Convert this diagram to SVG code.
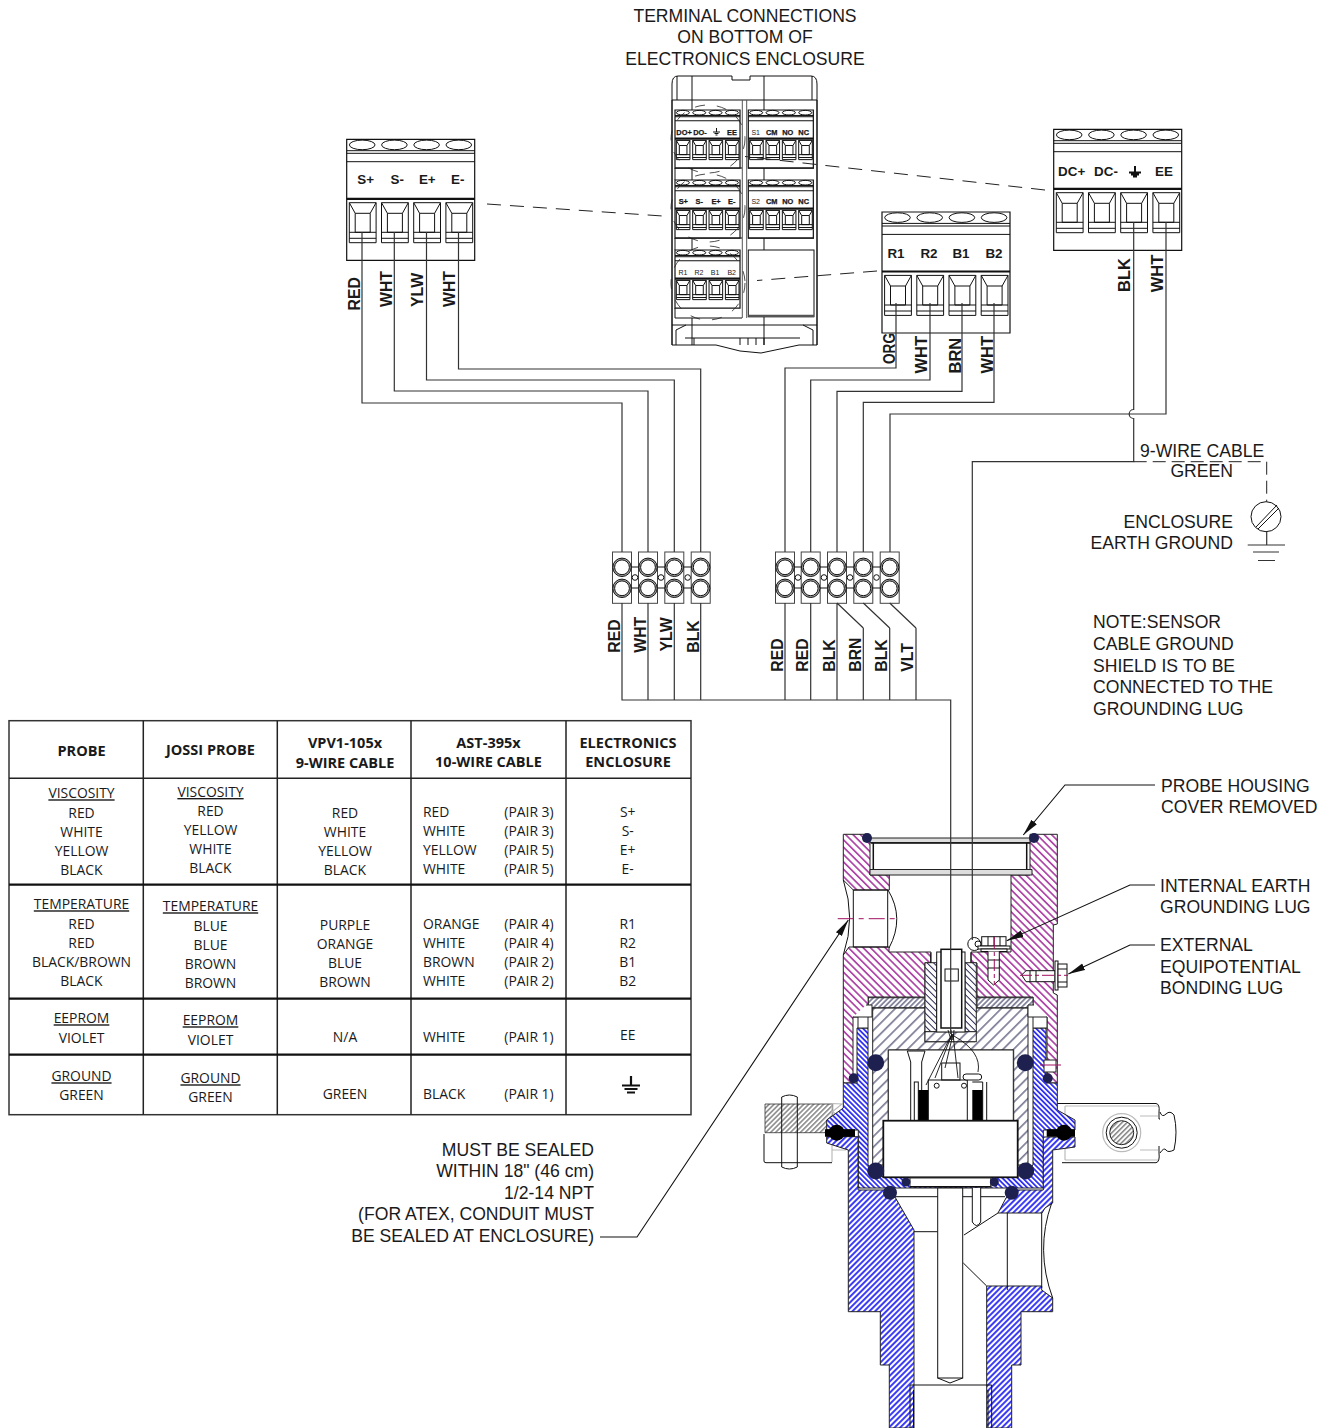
<svg xmlns="http://www.w3.org/2000/svg" xmlns:xlink="http://www.w3.org/1999/xlink" width="1328" height="1428" viewBox="0 0 1328 1428">
<style>
text{font-family:"Liberation Sans",Arial,sans-serif;fill:#1a1a1a}
.a{font-size:17.6px}
.e{text-anchor:end}
.m{text-anchor:middle}
.wl{font-size:15.8px;font-weight:bold}
.wr{font-size:16.5px;font-weight:bold}
.tb{font-size:13.4px;font-weight:bold;text-anchor:middle}
.sb{font-size:7.4px;font-weight:bold;text-anchor:middle;stroke:#111;stroke-width:.25}
.sn{font-size:7px;text-anchor:middle}
.t text{font-family:"Open Sans","Noto Sans",sans-serif;font-size:13.9px}
.t .h{font-weight:bold;text-anchor:middle;font-size:14.5px}
.t .c{text-anchor:middle}
.t .u{text-anchor:middle;text-decoration:underline}
.ln{fill:none;stroke:#222;stroke-width:1}
.w{fill:none;stroke:#333;stroke-width:1.2}
.d{fill:none;stroke:#222;stroke-width:1;stroke-dasharray:14 9}
.tl{fill:none;stroke:#222;stroke-width:1.5}
.tk{fill:none;stroke:#111;stroke-width:2.2}
.o{stroke:#111;stroke-width:1;fill:none}
.ow{stroke:#111;stroke-width:1;fill:#fff}
.k{stroke:#111;stroke-width:1.5;fill:#fff}
.navy{fill:#1e2050}
.ca{fill:none;stroke:#111;stroke-width:1.1;marker-end:url(#ar)}
#term *,#sock *{vector-effect:non-scaling-stroke}
</style>
<defs>
<marker id="ar" markerUnits="userSpaceOnUse" markerWidth="18" markerHeight="9" refX="17" refY="4.5" orient="auto"><path d="M0 1L17 4.5L0 8z" fill="#111"/></marker>
<pattern id="pm" patternUnits="userSpaceOnUse" width="8" height="5.2" patternTransform="rotate(45)"><rect width="8" height="5.2" fill="#fff"/><line x1="0" x2="8" y1="2.6" y2="2.6" stroke="#960a8c" stroke-width="1.3"/></pattern>
<pattern id="pb" patternUnits="userSpaceOnUse" width="8" height="3.6" patternTransform="rotate(45)"><rect width="8" height="3.6" fill="#fff"/><line x1="0" x2="8" y1="1.8" y2="1.8" stroke="#0a0af5" stroke-width="1.5"/></pattern>
<pattern id="pf" patternUnits="userSpaceOnUse" width="8" height="4" patternTransform="rotate(-45)"><rect width="8" height="4" fill="#fff"/><line x1="0" x2="8" y1="2" y2="2" stroke="#0a0af5" stroke-width="1.6"/></pattern>
<pattern id="pn" patternUnits="userSpaceOnUse" width="8" height="7.5" patternTransform="rotate(-45)"><rect width="8" height="7.5" fill="#fff"/><line x1="0" x2="8" y1="3.7" y2="3.7" stroke="#23234f" stroke-width="1"/></pattern>
<pattern id="pb2" patternUnits="userSpaceOnUse" width="8" height="4.6" patternTransform="rotate(45)"><rect width="8" height="4.6" fill="#fff"/><line x1="0" x2="8" y1="2.3" y2="2.3" stroke="#23234f" stroke-width="1"/></pattern>
<pattern id="pd" patternUnits="userSpaceOnUse" width="8" height="3.6" patternTransform="rotate(-45)"><rect width="8" height="3.6" fill="#fff"/><line x1="0" x2="8" y1="1.8" y2="1.8" stroke="#23234f" stroke-width="1"/></pattern>
<pattern id="pg" patternUnits="userSpaceOnUse" width="8" height="3.5" patternTransform="rotate(-45)"><rect width="8" height="3.5" fill="#fff"/><line x1="0" x2="8" y1="1.7" y2="1.7" stroke="#444" stroke-width="1"/></pattern>
<g id="sock"><rect x="2.6" y="63.4" width="26.8" height="40" class="o"/><rect x="8.5" y="74" width="15" height="19" class="o"/><path d="M2.6 63.4L8.5 74M29.4 63.4L23.5 74M2.6 93H29.4M2.6 99H29.4" class="o"/></g>
<g id="term">
<rect width="128" height="121" fill="#fff" stroke="#111" stroke-width="1.2"/>
<path d="M0 11.4H128M0 14H128M0 22.4H128" class="o"/><path d="M0 59.5H128" stroke="#111" stroke-width="2.2"/>
<ellipse cx="15.5" cy="5.6" rx="12.8" ry="4.8" class="o"/><ellipse cx="47.7" cy="5.6" rx="12.8" ry="4.8" class="o"/><ellipse cx="79.9" cy="5.6" rx="12.8" ry="4.8" class="o"/><ellipse cx="112.1" cy="5.6" rx="12.8" ry="4.8" class="o"/>
<use href="#sock"/><use href="#sock" x="32.2"/><use href="#sock" x="64.4"/><use href="#sock" x="96.6"/>
</g>
<g id="cell"><rect x="-9.5" y="0" width="19" height="51.3" fill="#fff" stroke="#444"/><circle cx="0" cy="15.3" r="9.2" fill="#aaa" stroke="#111"/><circle cx="0" cy="15.3" r="7.4" class="ow"/><circle cx="0" cy="36.3" r="9.2" fill="#aaa" stroke="#111"/><circle cx="0" cy="36.3" r="7.4" class="ow"/></g>
<g id="link"><path d="M-4 15H4M-4 36H4" class="o"/><circle cx="0" cy="25.5" r="2.8" class="ow"/></g>
</defs>
<rect width="1328" height="1428" fill="#fff"/>

<g id="title"><text class="a m" x="745" y="22">TERMINAL CONNECTIONS</text><text class="a m" x="745" y="43">ON BOTTOM OF</text><text class="a m" x="745" y="65">ELECTRONICS ENCLOSURE</text></g>

<g id="enclosure">
<path d="M672 84Q672 76 678 76H732V80H750V76H811Q817 76 817 84V345H799L780 349L761 353L740 351L716 345H672Z" class="o" fill="#fff"/>
<path d="M677 76V100M812 76V100M692 76V186M764 76V110M672 100H817M672 100V345M817 100V345" class="o"/>
<path d="M742.3 100V318M746.7 100V318" stroke="#555" stroke-width="1" fill="none"/>
<g transform="translate(675,110) scale(.508,.48)"><use href="#term"/></g>
<g transform="translate(748.3,110) scale(.508,.48)"><use href="#term"/></g>
<g transform="translate(675,180) scale(.508,.48)"><use href="#term"/></g>
<g transform="translate(748.3,180) scale(.508,.48)"><use href="#term"/></g>
<g transform="translate(675,250) scale(.508,.48)"><use href="#term"/></g>
<rect x="748.3" y="250" width="65.7" height="66.7" class="ow"/><path d="M748.3 316H814" stroke="#555" stroke-width="2.5"/>
<path d="M675 168V180M675 238V250M675 308V318H742M675 168H742M675 238H742M748 168H814M748 238H814M692 238V250M764 168V180M764 238V250M692 318V345M764 317V345M672 325H817M676 345L676 330L686 325M813 345L813 330L803 325M685 338H800M694 338V345M740 338V345M748 338V345M756 338V345M764 338V345" class="o"/>
<ellipse cx="708" cy="139" rx="37" ry="34" fill="none" stroke="#222" stroke-width=".8" stroke-dasharray="10 12"/>
<ellipse cx="708" cy="208" rx="37" ry="34" fill="none" stroke="#222" stroke-width=".8" stroke-dasharray="10 12"/>
<ellipse cx="708" cy="283" rx="37" ry="37" fill="none" stroke="#222" stroke-width=".8" stroke-dasharray="10 12"/>
<text class="sb" x="684" y="135">DO+</text><text class="sb" x="700" y="135">DO-</text><text class="sb" x="732" y="135">EE</text>
<path d="M716.5 128V132M713 132H720M714.5 133.5H718.5M715.5 135H717.5" stroke="#111" stroke-width="1" fill="none"/>
<text class="sn" x="755.7" y="135">S1</text><text class="sb" x="771.7" y="135">CM</text><text class="sb" x="787.7" y="135">NO</text><text class="sb" x="803.7" y="135">NC</text>
<text class="sb" x="683.3" y="204">S+</text><text class="sb" x="699.3" y="204">S-</text><text class="sb" x="716" y="204">E+</text><text class="sb" x="731.7" y="204">E-</text>
<text class="sn" x="755.7" y="204">S2</text><text class="sb" x="771.7" y="204">CM</text><text class="sb" x="787.7" y="204">NO</text><text class="sb" x="803.7" y="204">NC</text>
<text class="sn" x="683" y="275">R1</text><text class="sn" x="699" y="275">R2</text><text class="sn" x="715" y="275">B1</text><text class="sn" x="731.7" y="275">B2</text>
</g>

<g id="block-signal"><use href="#term" x="346.7" y="139.3"/>
<text class="tb" x="365.7" y="183.5">S+</text><text class="tb" x="397.3" y="183.5">S-</text><text class="tb" x="427.3" y="183.5">E+</text><text class="tb" x="457.7" y="183.5">E-</text></g>
<g id="block-power"><use href="#term" x="1053.7" y="129.3"/>
<text class="tb" x="1071.7" y="176">DC+</text><text class="tb" x="1106" y="176">DC-</text><text class="tb" x="1164" y="176">EE</text>
<path d="M1135 166V172M1129 172.5H1141M1131 174.5H1139M1133 176.5H1137" stroke="#111" stroke-width="2" fill="none"/></g>
<g id="block-rtd"><use href="#term" x="882" y="212"/>
<text class="tb" x="896" y="257.5">R1</text><text class="tb" x="929" y="257.5">R2</text><text class="tb" x="961" y="257.5">B1</text><text class="tb" x="994" y="257.5">B2</text></g>

<g id="strip-left"><use href="#cell" x="622" y="552"/><use href="#cell" x="648" y="552"/><use href="#cell" x="674.3" y="552"/><use href="#cell" x="700.7" y="552"/><use href="#link" x="635" y="552"/><use href="#link" x="661" y="552"/><use href="#link" x="687.7" y="552"/></g>
<g id="strip-right"><use href="#cell" x="785" y="552"/><use href="#cell" x="810.7" y="552"/><use href="#cell" x="837" y="552"/><use href="#cell" x="863.3" y="552"/><use href="#cell" x="889.7" y="552"/><use href="#link" x="798" y="552"/><use href="#link" x="824" y="552"/><use href="#link" x="850" y="552"/><use href="#link" x="876.5" y="552"/></g>

<g id="probe">
<path d="M765 1104H832.7V1132.7H765Z" fill="url(#pg)" stroke="#333" stroke-width=".8"/>
<path d="M764 1134V1161Q764 1162.7 766 1162.7H832M781.7 1097V1167M797.3 1097V1167M781.7 1097Q789.5 1093 797.3 1097M781.7 1167Q789.5 1171 797.3 1167" class="ow"/>
<path d="M832 1103.5L842 1104L832 1112M832 1150H846M832 1162V1104M832 1111L840 1118" fill="none" stroke="#bbb" stroke-width="1.2"/>
<path d="M1057 1103.5H1156Q1160 1104 1159 1112V1119H1160M1062 1162.7H1156Q1160 1162 1159 1153V1146" class="o"/>
<path d="M1065 1106H1158M1065 1160H1158M1065 1106V1160M1140 1116H1158M1140 1150H1158" fill="none" stroke="#bbb" stroke-width="1.2"/>
<path d="M1160 1112Q1162 1118 1166 1114T1174 1115Q1178 1132 1174 1150Q1168 1153 1166 1150T1160 1153" class="o"/>
<circle cx="1121.7" cy="1132.7" r="19" fill="#fff" stroke="#bbb" stroke-width="1.2"/><circle cx="1121.7" cy="1132.7" r="15.5" class="o"/><circle cx="1121.7" cy="1132.7" r="12" fill="url(#pg)" stroke="#222"/>
<path d="M843.3 834.3H870V870.5L870 875H889.3V890H853.3L843.3 880Z" fill="url(#pm)" stroke="#222" stroke-width="1"/>
<path d="M1030 834.3H1057.3V924L1053.3 925V993L1057.3 995V1083H1047V1017H1033V997H977V963H971V952H1011V875H1030Z" fill="url(#pm)" stroke="#222" stroke-width="1"/>
<path d="M843.3 955L849 947H889V952H931V963H925V997H868.3V1017H853V1083H843.3Z" fill="url(#pm)" stroke="#222" stroke-width="1"/>
<path d="M870 838H1030V842.7H870Z" fill="#ddd" stroke="#222"/>
<path d="M873.3 842.7V869.5M1026.7 842.7V869.5" class="k"/>
<path d="M871 843H1030" stroke="#111" stroke-width="1.6"/>
<path d="M870 869.5H1032V875H870Z" fill="#ddd" stroke="#222"/>
<circle cx="867" cy="838" r="5" class="navy"/><circle cx="1034" cy="838" r="5" class="navy"/>
<path d="M853.3 890V947M887.7 890V947M853.3 890H888M853.3 947H888M843.3 880Q856 918 843.3 955M888 890Q905 918 889 948" class="o"/>
<path d="M837.7 918.7H898.3" stroke="#a01060" stroke-width="1" stroke-dasharray="16 5 5 5"/>
<path d="M843.3 1083H857V1028H868V1165L883 1177H1017L1033 1165V1028H1046V1083H1057.3V1110L1075 1120V1130H1043.3V1188H858.3V1130H826.7V1120L843.3 1108Z" fill="url(#pb)" stroke="#222" stroke-width="1"/>
<path d="M826.7 1136.7H858V1190H885L895 1197L914 1230V1428H889.3V1365H880.3V1311.7H848.3V1150L826.7 1143Z" fill="url(#pf)" stroke="#222" stroke-width="1"/>
<path d="M1043.3 1137H1075V1147L1052.7 1150V1203L1045 1208L1042 1213H998L1006 1198L1012 1190H1043.3Z" fill="url(#pf)" stroke="#222" stroke-width="1"/>
<path d="M986.7 1286H1041.7V1290L1052.7 1298V1311.7H1021V1365H1011.7V1428H986.7Z" fill="url(#pf)" stroke="#222" stroke-width="1"/>
<path d="M872.7 1008H925V1041.7H975V1008H1028V1165H1013.7V1050H888.3V1165H872.7Z" fill="url(#pn)" stroke="#222" stroke-width="1"/>
<rect x="868.3" y="997.7" width="56.7" height="10" fill="url(#pd)" stroke="#222"/><rect x="977" y="997.7" width="56" height="10" fill="url(#pd)" stroke="#222"/>
<path d="M858 1017V1028H868V1017M1033 1017V1028H1047V1017M853 1017H872V1005H866M1047 1017H1028V1005H1034" fill="#fff" stroke="#222"/>
<rect x="925" y="962.7" width="11.7" height="69" fill="url(#pb2)" stroke="#222"/><rect x="965" y="962.7" width="11.3" height="69" fill="url(#pb2)" stroke="#222"/>
<rect x="925" y="1031.7" width="51.3" height="10" fill="url(#pn)" stroke="#222"/>
<rect x="936.7" y="952" width="28.3" height="80" class="ow"/>
<path d="M930.7 952.7V962.7M971 952.7V962.7" class="o"/>
<rect x="941" y="949.3" width="20.7" height="78.7" class="k"/><rect x="945" y="969" width="13.3" height="12" class="o"/>
<path d="M895 1196.7H1005M914 1231.7H937.7M964 1235L998 1213M963.3 1263L986.7 1286M1007.3 1213V1290M1041.7 1213V1288M1051.7 1203Q1035 1250 1052.7 1298" class="o"/>
<rect x="937.7" y="1188" width="25" height="190" class="ow"/>
<path d="M937.7 1378L950 1383L962.7 1378" class="o"/>
<path d="M972.3 1188V1222Q976.5 1229 980.7 1222V1188" class="ow"/>
<path d="M910 1428V1385H991.7V1428M913.5 1428V1390M988 1428V1390" class="o"/>
<rect x="888.3" y="1050" width="125" height="72" fill="#fff" stroke="#222"/>
<path d="M907.3 1051H925L921.7 1062V1122M910.7 1062V1122M907.3 1051L910.7 1062" class="ow"/>
<rect x="914.3" y="1082" width="4" height="40" class="o"/>
<rect x="918.3" y="1090" width="10.7" height="30" fill="#000"/><rect x="972.3" y="1090" width="10.4" height="30" fill="#000"/>
<path d="M982.7 1082V1120M986.7 1082V1120M972.3 1082H982.7" class="o"/>
<rect x="928.3" y="1080" width="39" height="40.7" class="ow"/>
<circle cx="936.7" cy="1085.7" r="2.5" class="o"/><circle cx="964" cy="1085.7" r="2.5" class="o"/>
<rect x="941.7" y="1063" width="18.3" height="17" class="o"/>
<rect x="963" y="1074" width="18.7" height="6" class="ow" rx="3"/>
<path d="M952 1034L926 1085M952 1034L935 1078M953 1034L945 1068M953 1034L958 1078M954 1036Q982 1052 978 1072M948 1030L951 1040M951 1030L952 1040M954 1030L953 1040" fill="none" stroke="#111" stroke-width=".9"/>
<rect x="883.3" y="1120.7" width="134.4" height="56.6" fill="#fff" stroke="#111" stroke-width="1.8"/>
<rect x="910" y="1178" width="80.7" height="8.7" fill="#fff" stroke="#333"/>
<path d="M910 1186.7H990.7" stroke="#111" stroke-width="1.6"/>
<circle cx="853.7" cy="1078.3" r="5" class="navy"/><circle cx="1047.7" cy="1078.3" r="5" class="navy"/>
<circle cx="875.7" cy="1062.7" r="8.5" class="navy"/><circle cx="1025.3" cy="1062.7" r="8.5" class="navy"/>
<circle cx="875.7" cy="1171" r="8.5" class="navy"/><circle cx="1025.7" cy="1171" r="8.5" class="navy"/>
<circle cx="906" cy="1182" r="4.5" class="navy"/><circle cx="994.3" cy="1182" r="4.5" class="navy"/>
<circle cx="890" cy="1192.7" r="7" class="navy"/><circle cx="1011.7" cy="1192.7" r="7" class="navy"/>
<rect x="1044" y="1060" width="12" height="12" fill="#fff" stroke="#222"/><path d="M1040 1065H1061" stroke="#a01060"/>
<path d="M825 1133H855M1046.7 1133H1075" stroke="#000" stroke-width="7.5"/>
<circle cx="836.7" cy="1132.7" r="8" fill="#000"/><circle cx="1064" cy="1132.7" r="8" fill="#000"/>
</g>

<g id="lug-internal">
<rect x="981.7" y="936.7" width="24.3" height="9.3" class="ow"/><path d="M988 936.7V946M994 936.7V946M1000 936.7V946" class="o"/>
<circle cx="974.3" cy="944" r="6.5" class="ow"/><circle cx="978" cy="944" r="3" class="ow"/>
<rect x="978" y="946" width="32" height="3" class="ow"/><rect x="981" y="949" width="26" height="2.5" class="ow"/>
<path d="M988 951.5V980L993.5 985L999.3 980V951.5" class="ow"/><path d="M988 960H999.3M988 968H999.3" class="o"/>
<path d="M994.3 937V985" stroke="#a01060" stroke-dasharray="12 3 4 3"/>
</g>
<g id="lug-external">
<path d="M1021.7 975L1026 970.7H1055V981.7H1026Z" class="ow"/><path d="M1030 970.7V981.7M1036 970.7V981.7" class="o"/>
<rect x="1055" y="961" width="3" height="29" class="ow"/><rect x="1058" y="964" width="9" height="23" class="ow"/><path d="M1058 969H1067M1058 982H1067" class="o"/>
<path d="M1020 975.3H1068" stroke="#a01060" stroke-dasharray="12 3 4 3"/>
</g>

<g id="connectors">
<path class="d" d="M487 204L670 216.5"/>
<path class="d" d="M1045 190L745 156.5"/>
<path class="d" d="M877 271L757 280.5"/>
<path class="w" d="M362 232V403H622V552M394.3 232V391H648V552M426.5 232V380H674.3V552M458.5 232V369H700.7V552"/>
<path class="w" d="M896 303V368H785V552M930 303V380H810.7V552M962 303V391.3H837V552M994 303V402.3H863.3V552"/>
<path class="w" d="M1166 222V414H890V552"/>
<path class="w" d="M1133.7 222V409.5A4.5 4.5 0 0 0 1133.7 418.5V461.7H972.3V940"/>
<path class="w" d="M622 603V700H950.7V1034M648 603V700M674.3 603V700M700.7 603V700"/>
<path class="w" d="M785 603V700M810.7 603V700M837 603V700M863.3 628V700M889.7 628V700M916 628V700M837 603L863.3 628M863.3 603L889.7 628M889.7 603L916 628"/>
<path class="d" d="M1133.7 461.7H1266.7V501.7" style="stroke-dasharray:13 6"/>
<path class="ca" d="M1155 785H1065L1023.3 835"/>
<path class="ca" d="M1155 885H1130L1006.7 940.7"/>
<path class="ca" d="M1155 945H1130L1068.3 974"/>
<path class="ca" d="M600 1237H637L848.3 920"/>
</g>

<g id="ground">
<circle cx="1266" cy="516.7" r="15" class="ow" stroke-width="1.2"/>
<path d="M1256 527L1277 505M1258 529L1279 508" class="o"/>
<path d="M1266.7 531.7V545M1247.7 545H1285M1253 552H1279M1258 560.5H1275" class="w"/>
</g>

<g id="wire-labels">
<text class="wl" transform="translate(360,310.5) rotate(-90)">RED</text>
<text class="wl" transform="translate(391.7,307) rotate(-90)">WHT</text>
<text class="wl" transform="translate(423,307) rotate(-90)">YLW</text>
<text class="wl" transform="translate(455,307) rotate(-90)">WHT</text>
<text class="wr" textLength="31" lengthAdjust="spacingAndGlyphs" transform="translate(895,364) rotate(-90)">ORG</text>
<text class="wr" transform="translate(927.3,373.5) rotate(-90)">WHT</text>
<text class="wr" transform="translate(960.7,373.5) rotate(-90)">BRN</text>
<text class="wr" transform="translate(992.7,373.5) rotate(-90)">WHT</text>
<text class="wr" transform="translate(1130,292) rotate(-90)">BLK</text>
<text class="wr" transform="translate(1162.7,292.3) rotate(-90)">WHT</text>
<text class="wl" transform="translate(620,652.7) rotate(-90)">RED</text>
<text class="wl" transform="translate(646,652.7) rotate(-90)">WHT</text>
<text class="wl" transform="translate(671.7,651.5) rotate(-90)">YLW</text>
<text class="wl" transform="translate(699,652.7) rotate(-90)">BLK</text>
<text class="wl" transform="translate(782.7,671.7) rotate(-90)">RED</text>
<text class="wl" transform="translate(808.3,671.7) rotate(-90)">RED</text>
<text class="wl" transform="translate(835,671.7) rotate(-90)">BLK</text>
<text class="wl" transform="translate(861,671.7) rotate(-90)">BRN</text>
<text class="wl" transform="translate(887.3,671.7) rotate(-90)">BLK</text>
<text class="wl" transform="translate(913.3,671.7) rotate(-90)">VLT</text>
</g>

<g id="notes">
<text class="a" x="1140" y="456.5">9-WIRE CABLE</text><text class="a e" x="1233" y="477">GREEN</text>
<text class="a e" x="1233" y="527.5">ENCLOSURE</text><text class="a e" x="1233" y="549">EARTH GROUND</text>
<text class="a" x="1093" y="628">NOTE:SENSOR</text><text class="a" x="1093" y="650">CABLE GROUND</text><text class="a" x="1093" y="671.5">SHIELD IS TO BE</text><text class="a" x="1093" y="693">CONNECTED TO THE</text><text class="a" x="1093" y="714.5">GROUNDING LUG</text>
<text class="a" x="1161" y="791.5">PROBE HOUSING</text><text class="a" x="1161" y="813">COVER REMOVED</text>
<text class="a" x="1160" y="891.5">INTERNAL EARTH</text><text class="a" x="1160" y="913">GROUNDING LUG</text>
<text class="a" x="1160" y="951">EXTERNAL</text><text class="a" x="1160" y="972.5">EQUIPOTENTIAL</text><text class="a" x="1160" y="994">BONDING LUG</text>
<text class="a e" x="594" y="1156">MUST BE SEALED</text><text class="a e" x="594" y="1177">WITHIN 18" (46 cm)</text><text class="a e" x="594" y="1198.5">1/2-14 NPT</text><text class="a e" x="594" y="1220">(FOR ATEX, CONDUIT MUST</text><text class="a e" x="594" y="1242">BE SEALED AT ENCLOSURE)</text>
</g>

<g id="table" class="t">
<rect x="9" y="720.7" width="682" height="394" fill="#fff" stroke="#333" stroke-width="1.5"/>
<path class="tl" d="M143.3 720.7V1114.7M277.3 720.7V1114.7M411 720.7V1114.7M566 720.7V1114.7M9 778.3H691"/>
<path class="tk" d="M9 884.7H691M9 998.7H691M9 1054.7H691"/>
<text class="h" x="81.5" y="756">PROBE</text><text class="h" x="210.5" y="755">JOSSI PROBE</text>
<text class="h" x="345" y="748">VPV1-105x</text><text class="h" x="345" y="767.7">9-WIRE CABLE</text>
<text class="h" x="488.5" y="747.5">AST-395x</text><text class="h" x="488.5" y="767">10-WIRE CABLE</text>
<text class="h" x="628" y="747.5">ELECTRONICS</text><text class="h" x="628" y="767">ENCLOSURE</text>
<text class="u" x="81.5" y="798.3">VISCOSITY</text><text class="c" x="81.5" y="817.5">RED</text><text class="c" x="81.5" y="836.5">WHITE</text><text class="c" x="81.5" y="855.5">YELLOW</text><text class="c" x="81.5" y="874.5">BLACK</text>
<text class="u" x="210.5" y="797">VISCOSITY</text><text class="c" x="210.5" y="816">RED</text><text class="c" x="210.5" y="835">YELLOW</text><text class="c" x="210.5" y="854">WHITE</text><text class="c" x="210.5" y="873">BLACK</text>
<text class="c" x="345" y="818">RED</text><text class="c" x="345" y="837">WHITE</text><text class="c" x="345" y="856">YELLOW</text><text class="c" x="345" y="875">BLACK</text>
<text x="423" y="817.3">RED</text><text x="423" y="836.3">WHITE</text><text x="423" y="855.3">YELLOW</text><text x="423" y="874.3">WHITE</text>
<text x="504.3" y="817.3">(PAIR 3)</text><text x="504.3" y="836.3">(PAIR 3)</text><text x="504.3" y="855.3">(PAIR 5)</text><text x="504.3" y="874.3">(PAIR 5)</text>
<text class="c" x="627.7" y="817.3">S+</text><text class="c" x="627.7" y="836.3">S-</text><text class="c" x="627.7" y="855.3">E+</text><text class="c" x="627.7" y="874.3">E-</text>
<text class="u" x="81.5" y="909.3">TEMPERATURE</text><text class="c" x="81.5" y="928.5">RED</text><text class="c" x="81.5" y="947.5">RED</text><text class="c" x="81.5" y="966.5">BLACK/BROWN</text><text class="c" x="81.5" y="985.5">BLACK</text>
<text class="u" x="210.5" y="911.3">TEMPERATURE</text><text class="c" x="210.5" y="930.5">BLUE</text><text class="c" x="210.5" y="949.5">BLUE</text><text class="c" x="210.5" y="968.5">BROWN</text><text class="c" x="210.5" y="987.5">BROWN</text>
<text class="c" x="345" y="930">PURPLE</text><text class="c" x="345" y="949">ORANGE</text><text class="c" x="345" y="968">BLUE</text><text class="c" x="345" y="987">BROWN</text>
<text x="423" y="929.3">ORANGE</text><text x="423" y="948.3">WHITE</text><text x="423" y="967.3">BROWN</text><text x="423" y="986.3">WHITE</text>
<text x="504.3" y="929.3">(PAIR 4)</text><text x="504.3" y="948.3">(PAIR 4)</text><text x="504.3" y="967.3">(PAIR 2)</text><text x="504.3" y="986.3">(PAIR 2)</text>
<text class="c" x="627.7" y="929.3">R1</text><text class="c" x="627.7" y="948.3">R2</text><text class="c" x="627.7" y="967.3">B1</text><text class="c" x="627.7" y="986.3">B2</text>
<text class="u" x="81.5" y="1023.3">EEPROM</text><text class="c" x="81.5" y="1042.5">VIOLET</text>
<text class="u" x="210.5" y="1025.3">EEPROM</text><text class="c" x="210.5" y="1044.5">VIOLET</text>
<text class="c" x="345" y="1042">N/A</text><text x="423" y="1042">WHITE</text><text x="504.3" y="1042">(PAIR 1)</text><text class="c" x="627.7" y="1040">EE</text>
<text class="u" x="81.5" y="1081.3">GROUND</text><text class="c" x="81.5" y="1100">GREEN</text>
<text class="u" x="210.5" y="1083.3">GROUND</text><text class="c" x="210.5" y="1102">GREEN</text>
<text class="c" x="345" y="1099">GREEN</text><text x="423" y="1099.3">BLACK</text><text x="504.3" y="1099.3">(PAIR 1)</text>
<path d="M631 1076V1085M622 1085.5H640M624.5 1089H637.5M627 1092.5H635" stroke="#111" stroke-width="2.2" fill="none"/>
</g>
</svg>
